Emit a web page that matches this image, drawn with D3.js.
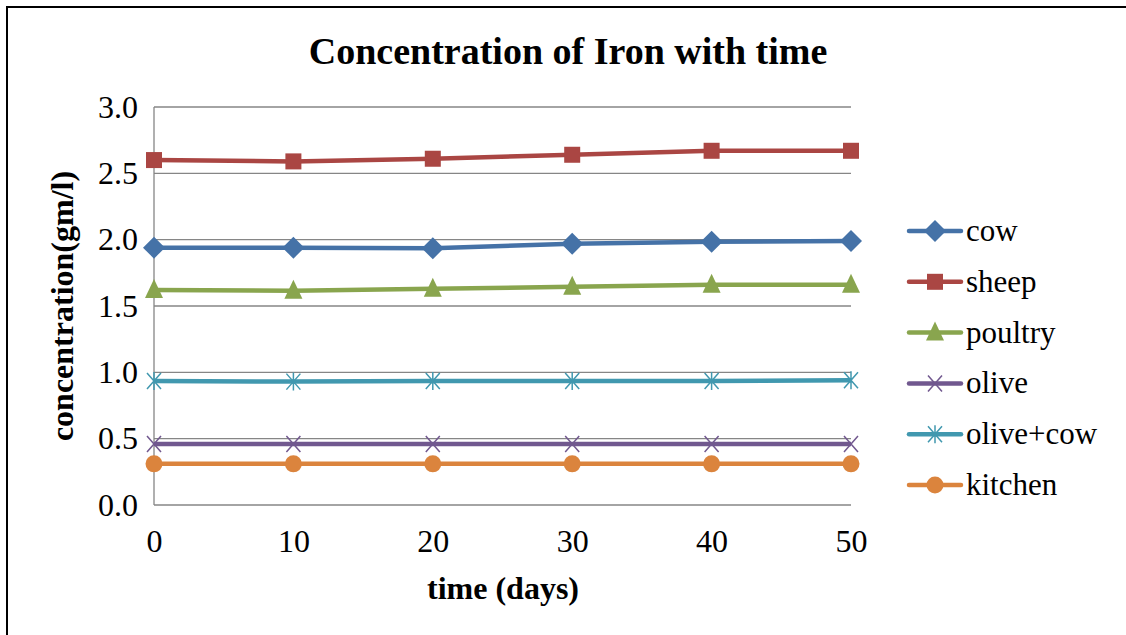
<!DOCTYPE html>
<html>
<head>
<meta charset="utf-8">
<script src="https://cdn.jsdelivr.net/npm/d3@7"></script>
<style>
body { margin: 0; background: #fff; }
text { font-family: "Liberation Serif", "Times New Roman", serif; }
</style>
</head>
<body>
<div id="chart"></div>
<script>
var days = [0, 10, 20, 30, 40, 50];
var yTicks = [0, 0.5, 1.0, 1.5, 2.0, 2.5, 3.0];
var seriesNames = ["cow", "sheep", "poultry", "olive", "olive+cow", "kitchen"];
var cow = [1.94, 1.94, 1.935, 1.97, 1.985, 1.99];
var sheep = [2.60, 2.59, 2.61, 2.64, 2.67, 2.67];
var poultry = [1.62, 1.615, 1.63, 1.645, 1.66, 1.66];
var olive = [0.46, 0.46, 0.46, 0.46, 0.46, 0.46];
var oliveCow = [0.935, 0.93, 0.935, 0.935, 0.935, 0.94];
var kitchen = [0.31, 0.31, 0.31, 0.31, 0.31, 0.31];

var colors = ["#4572A7", "#AA4643", "#89A54E", "#71588F", "#4198AF", "#DB843D"];
var markers = ["diamond", "square", "triangle", "x", "star", "circle"];
var allValues = [cow, sheep, poultry, olive, oliveCow, kitchen];

var width = 1126, height = 635;
var plot = {left: 154, right: 851, top: 107, bottom: 505};

var svg = d3.select("#chart").append("svg")
	.attr("width", width)
	.attr("height", height);

// frame
svg.append("rect")
	.attr("x", 7).attr("y", 7)
	.attr("width", width + 10).attr("height", height + 10)
	.attr("fill", "none")
	.attr("stroke", "#000")
	.attr("stroke-width", 2);

var x = d3.scaleLinear().domain([0, 50]).range([plot.left, plot.right]);
var y = d3.scaleLinear().domain([0, 3]).range([plot.bottom, plot.top]);

// grid
svg.append("g")
	.selectAll("line")
	.data(yTicks)
	.enter().append("line")
	.attr("x1", plot.left).attr("x2", plot.right)
	.attr("y1", d => y(d)).attr("y2", d => y(d))
	.attr("stroke", "#868686")
	.attr("stroke-width", 1.3);

svg.append("line")
	.attr("x1", plot.left).attr("x2", plot.left)
	.attr("y1", plot.top).attr("y2", plot.bottom)
	.attr("stroke", "#868686")
	.attr("stroke-width", 1.3);

var yAxis = d3.axisLeft(y).tickValues(yTicks).tickSize(0).tickPadding(16)
	.tickFormat(d3.format(".1f"));
var gy = svg.append("g").attr("transform", "translate(" + plot.left + ",0)").call(yAxis);
gy.select(".domain").remove();
gy.selectAll("text").style("font-size", "32px").attr("fill", "#000")
	.attr("font-family", "Liberation Serif");

var xAxis = d3.axisBottom(x).tickValues(days).tickSize(0).tickPadding(24);
var gx = svg.append("g").attr("transform", "translate(0," + plot.bottom + ")").call(xAxis);
gx.select(".domain").remove();
gx.selectAll("text").style("font-size", "32px").attr("fill", "#000")
	.attr("font-family", "Liberation Serif");

// titles
svg.append("text")
	.attr("x", 568).attr("y", 64)
	.attr("text-anchor", "middle")
	.style("font-size", "38px").style("font-weight", "bold")
	.text("Concentration of Iron with time");

svg.append("text")
	.attr("x", 503).attr("y", 599)
	.attr("text-anchor", "middle")
	.style("font-size", "32px").style("font-weight", "bold")
	.text("time (days)");

svg.append("text")
	.attr("transform", "translate(73,306) rotate(-90)")
	.attr("text-anchor", "middle")
	.style("font-size", "32px").style("font-weight", "bold")
	.text("concentration(gm/l)");

function drawMarker(g, type, color, cx, cy) {
	if (type === "diamond") {
		g.append("path").attr("d", "M" + cx + "," + (cy - 11) + "L" + (cx + 11) + "," + cy + "L" + cx + "," + (cy + 11) + "L" + (cx - 11) + "," + cy + "Z")
			.attr("fill", color);
	} else if (type === "square") {
		g.append("rect").attr("x", cx - 8).attr("y", cy - 8).attr("width", 16).attr("height", 16)
			.attr("fill", color);
	} else if (type === "triangle") {
		g.append("path").attr("d", "M" + cx + "," + (cy - 11) + "L" + (cx + 9) + "," + (cy + 8) + "L" + (cx - 9) + "," + (cy + 8) + "Z")
			.attr("fill", color);
	} else if (type === "circle") {
		g.append("circle").attr("cx", cx).attr("cy", cy).attr("r", 8.5).attr("fill", color);
	} else if (type === "x") {
		g.append("path").attr("d", "M" + (cx - 7) + "," + (cy - 8) + "L" + (cx + 7) + "," + (cy + 8) + "M" + (cx + 7) + "," + (cy - 8) + "L" + (cx - 7) + "," + (cy + 8))
			.attr("stroke", color).attr("stroke-width", 1.5).attr("fill", "none");
	} else if (type === "star") {
		g.append("path").attr("d", "M" + (cx - 7) + "," + (cy - 8) + "L" + (cx + 7) + "," + (cy + 8) + "M" + (cx + 7) + "," + (cy - 8) + "L" + (cx - 7) + "," + (cy + 8) + "M" + cx + "," + (cy - 9) + "L" + cx + "," + (cy + 9))
			.attr("stroke", color).attr("stroke-width", 1.5).attr("fill", "none");
	}
}

var line = d3.line().x(d => x(d.x)).y(d => y(d.y));

allValues.forEach(function (vals, i) {
	var pts = days.map((d, j) => ({x: d, y: vals[j]}));
	var g = svg.append("g");
	g.append("path")
		.datum(pts)
		.attr("d", line)
		.attr("fill", "none")
		.attr("stroke", colors[i])
		.attr("stroke-width", 4.5)
		.attr("stroke-linejoin", "round");
	pts.forEach(p => drawMarker(g, markers[i], colors[i], x(p.x), y(p.y)));
});

// legend
var legendTop = 231, legendStep = 50.8;
seriesNames.forEach(function (name, i) {
	var ly = legendTop + i * legendStep;
	var g = svg.append("g");
	g.append("line")
		.attr("x1", 909).attr("x2", 961)
		.attr("y1", ly).attr("y2", ly)
		.attr("stroke", colors[i]).attr("stroke-width", 4.5)
		.attr("stroke-linecap", "round");
	drawMarker(g, markers[i], colors[i], 935, ly);
	g.append("text")
		.attr("x", 966).attr("y", ly + 10)
		.style("font-size", "31px")
		.text(name);
});
</script>
</body>
</html>
